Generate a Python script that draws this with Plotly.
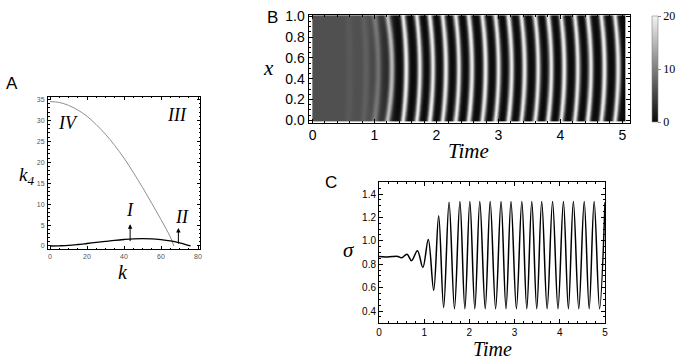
import numpy as np
import plotly.graph_objects as go

W, H = 683, 360

# ---------------- Panel A data ----------------
k_upper = [0, 5, 10, 15, 20, 25, 30, 35, 40, 45, 50, 55, 60, 65, 67]
k4_upper = [34.5, 34.3, 33.6, 32.5, 31.0, 29.0, 26.7, 24.0, 21.0, 17.6, 14.0, 10.2, 6.3, 2.2, 0.0]
k_lower = [0, 5, 10, 15, 20, 25, 30, 35, 40, 45, 50, 55, 60, 65, 70, 73, 76]
k4_lower = [0.0, 0.05, 0.15, 0.35, 0.6, 0.85, 1.1, 1.35, 1.55, 1.7, 1.75, 1.7, 1.5, 1.2, 0.75, 0.4, 0.0]
region_labels = ["IV", "III", "I", "II"]
region_k = [9.7, 68.5, 43.5, 71.3]
region_k4 = [29.5, 31.4, 8.6, 7.0]
arrow_k = [43.3, 69.4]
arrow_tail = [0.8, 0.2]
arrow_head = [5.2, 4.3]

# ---------------- Panel B data ----------------
stripe_times = [0.60, 0.86, 1.06, 1.28, 1.51, 1.73, 1.94, 2.15, 2.36, 2.57, 2.79, 3.00,
                3.21, 3.42, 3.64, 3.85, 4.06, 4.28, 4.49, 4.71, 4.93]
stripe_levels = [6.8, 7.4, 9.0, 15, 20, 20, 20, 20, 20, 20, 20, 20,
                 20, 20, 20, 20, 20, 20, 20, 20, 20]
stripe_widths = [0.06, 0.05, 0.05, 0.045, 0.042, 0.042, 0.042, 0.042, 0.042, 0.042, 0.042, 0.042,
                 0.042, 0.042, 0.042, 0.042, 0.042, 0.042, 0.042, 0.042, 0.042]
stripe_bend = [0.02, 0.04, 0.06, 0.07, 0.05, 0.05, 0.05, 0.05, 0.05, 0.05, 0.05, 0.05,
               0.05, 0.05, 0.05, 0.05, 0.05, 0.05, 0.05, 0.05, 0.05]
base_times = [0.0, 0.9, 1.17, 1.38, 5.1]
base_levels = [6.0, 6.0, 3.0, 0.0, 0.0]

# ---------------- Panel C data ----------------
sigma_t = [0, 0.15, 0.3, 0.42, 0.5, 0.62, 0.72, 0.85, 0.97, 1.09, 1.21, 1.32, 1.43, 1.55, 1.67,
           1.79, 1.90, 2.01, 2.12, 2.23, 2.35, 2.46, 2.58, 2.70, 2.81, 2.92, 3.04, 3.16, 3.27,
           3.38, 3.49, 3.60, 3.72, 3.84, 3.96, 4.08, 4.19, 4.30, 4.42, 4.54, 4.65, 4.76, 4.88, 5.0]
sigma_v = [0.865, 0.862, 0.866, 0.866, 0.855, 0.885, 0.83, 0.915, 0.772, 1.012, 0.577, 1.215,
           0.43, 1.33, 0.42,
           1.335, 0.42, 1.335, 0.42, 1.335, 0.42, 1.335, 0.42, 1.335, 0.42, 1.335, 0.42,
           1.335, 0.42, 1.335, 0.42, 1.335, 0.42, 1.335, 0.42, 1.335, 0.42, 1.335, 0.42,
           1.335, 0.42, 1.335, 0.42, 1.33]


def px(x):
    return x / W


def py(y):
    return 1 - y / H


# Build field for heatmap from the read stripe positions
t_grid = np.linspace(0, 5.05, 900)
x_grid = np.linspace(0, 1, 61)
base = np.interp(t_grid, base_times, base_levels)
Z = np.tile(base, (len(x_grid), 1))
for ts, lv, w, b in zip(stripe_times, stripe_levels, stripe_widths, stripe_bend):
    amp = lv - np.interp(ts, base_times, base_levels)
    shift = b * (2 * x_grid[:, None] - 1) ** 2
    Z = Z + amp * np.exp(-((t_grid[None, :] - ts + shift) / w) ** 2)
Z = np.clip(Z, 0, 20)

fig = go.Figure()

# Panel A
fig.add_trace(go.Scatter(x=k_upper, y=k4_upper, mode="lines", line=dict(color="#8f8f8f", width=1, shape="spline"),
                         xaxis="x", yaxis="y", showlegend=False))
fig.add_trace(go.Scatter(x=k_lower, y=k4_lower, mode="lines", line=dict(color="black", width=1.3, shape="spline"),
                         xaxis="x", yaxis="y", showlegend=False))

# Panel B
fig.add_trace(go.Heatmap(
    z=Z, x=t_grid, y=x_grid, zmin=0, zmax=20, zsmooth="best",
    colorscale=[[0, "#0a0a0a"], [1, "#f3f3f3"]],
    xaxis="x2", yaxis="y2",
    colorbar=dict(x=px(651.5), xanchor="left", xpad=0, ypad=0,
                  y=py(16), yanchor="top", len=106, lenmode="pixels",
                  thickness=6, thicknessmode="pixels",
                  outlinewidth=0.6, outlinecolor="#888",
                  tickvals=[0, 10, 20], ticks="outside", ticklen=3, tickcolor="#888",
                  tickfont=dict(family="Liberation Serif", size=12, color="black")),
))

# Panel C
fig.add_trace(go.Scatter(x=sigma_t, y=sigma_v, mode="lines", line=dict(color="black", width=1.5, shape="spline"),
                         xaxis="x3", yaxis="y3", showlegend=False))


def ax_style(dtick, mdtick, tickfont, ticklen=4, mlen=2):
    return dict(showline=True, linecolor="black", linewidth=1, mirror="allticks",
                ticks="inside", ticklen=ticklen, tickcolor="black", tickwidth=0.8,
                dtick=dtick, tick0=0, showgrid=False, zeroline=False,
                minor=dict(dtick=mdtick, tick0=0, ticks="inside", ticklen=mlen, tickcolor="black", tickwidth=0.6),
                tickfont=tickfont, fixedrange=True)


fontA = dict(family="Liberation Sans", size=7, color="#555555")
fontB = dict(family="Liberation Sans", size=14, color="black")
fontC = dict(family="Liberation Sans", size=10, color="black")

layout = dict(
    width=W, height=H, autosize=False,
    margin=dict(l=0, r=0, t=0, b=0, autoexpand=False),
    paper_bgcolor="white", plot_bgcolor="white",
    showlegend=False,
    xaxis=dict(domain=[px(48), px(200)], range=[-1.08, 81.08], anchor="y",
               **ax_style(20, 5, fontA, 3, 1.5)),
    yaxis=dict(domain=[py(249), py(96.7)], range=[-0.72, 35.67], anchor="x",
               **ax_style(5, 1, fontA, 3, 1.5)),
    xaxis2=dict(domain=[px(308.5), px(630)], range=[-0.065, 5.124], anchor="y2",
                **ax_style(1, 0.2, fontB)),
    yaxis2=dict(domain=[py(122.5), py(14.5)], range=[-0.021, 1.017], anchor="x2",
                **ax_style(0.2, 0.05, fontB)),
    xaxis3=dict(domain=[px(379), px(605)], range=[0, 5], anchor="y3",
                **ax_style(1, 0.2, fontC)),
    yaxis3=dict(domain=[py(322.7), py(182.3)], range=[0.3, 1.5], anchor="x3",
                **ax_style(0.2, 0.05, fontC)),
)
layout["yaxis2"]["tickformat"] = ".1f"
layout["yaxis3"]["tickformat"] = ".1f"
layout["xaxis"]["ticklabelstandoff"] = 1
layout["yaxis"]["ticklabelstandoff"] = 1
fig.update_layout(**layout)

serif_i = "Liberation Serif"
ann = []


def txt(x, y, s, size, family=serif_i, italic=True):
    ann.append(dict(x=px(x), y=py(y), xref="paper", yref="paper", text=(f"<i>{s}</i>" if italic else s),
                    showarrow=False, xanchor="center", yanchor="middle",
                    font=dict(family=family, size=size, color="black")))


# panel letters
txt(12, 83, "A", 17, "Liberation Sans", False)
txt(272, 17, "B", 17, "Liberation Sans", False)
txt(331, 182, "C", 17, "Liberation Sans", False)
# axis titles
txt(26, 176, "k<sub>4</sub>", 19)
txt(123, 272, "k", 20)
txt(268, 68, "x", 21)
txt(468, 151, "Time", 21)
txt(349, 250, "σ", 21)
txt(492, 349, "Time", 20)

for lab, kk, vv in zip(region_labels, region_k, region_k4):
    ann.append(dict(x=kk, y=vv, xref="x", yref="y", text=f"<i>{lab}</i>", showarrow=False,
                    font=dict(family=serif_i, size=18, color="black")))
for kk, t0, t1 in zip(arrow_k, arrow_tail, arrow_head):
    ann.append(dict(x=kk, y=t1, ax=kk, ay=t0, xref="x", yref="y", axref="x", ayref="y", text="",
                    showarrow=True, arrowhead=2, arrowsize=0.9, arrowwidth=1, arrowcolor="black"))

fig.update_layout(annotations=ann)
fig.write_html("out.html", config={"displayModeBar": False},
               post_script="document.body.style.margin='0';document.body.style.padding='0';")
